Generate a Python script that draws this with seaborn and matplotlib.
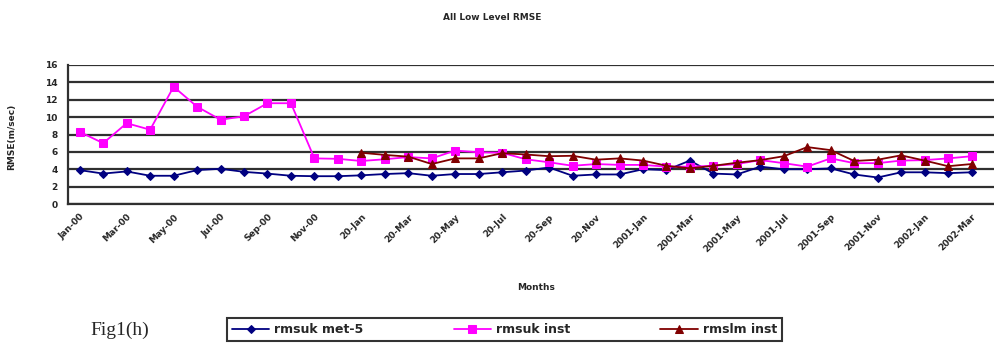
import numpy as np
import pandas as pd
import matplotlib
matplotlib.use("Agg")
import matplotlib.pyplot as plt
import seaborn as sns

tick_labels = ["Jan-00", "Mar-00", "May-00", "Jul-00", "Sep-00", "Nov-00",
               "20-Jan", "20-Mar", "20-May", "20-Jul", "20-Sep", "20-Nov",
               "2001-Jan", "2001-Mar", "2001-May", "2001-Jul", "2001-Sep",
               "2001-Nov", "2002-Jan", "2002-Mar"]

rmsuk_met5 = [3.9, 3.5, 3.75, 3.25, 3.25, 3.9, 4.05, 3.7, 3.5, 3.25, 3.2,
              3.2, 3.3, 3.45, 3.55, 3.25, 3.45, 3.45, 3.65, 3.85,
              4.2, 3.25, 3.4, 3.4, 4.0, 3.9, 5.0, 3.5, 3.4, 4.3, 4.0, 4.0,
              4.1, 3.4, 3.05, 3.65, 3.65, 3.55, 3.65]
rmsuk_inst = [8.3, 7.0, 9.3, 8.55, 13.5, 11.2, 9.7, 10.1, 11.6, 11.6, 5.25,
              5.2, 4.95, 5.15, 5.4, 5.25, 6.15, 5.95, 5.9, 5.15,
              4.8, 4.4, 4.6, 4.5, 4.5, 4.3, 4.3, 4.4, 4.6, 5.05, 4.7, 4.3,
              5.25, 4.7, 4.7, 5.0, 5.05, 5.25, 5.5]
rmslm_inst = [np.nan] * 12 + [5.9, 5.65, 5.45, 4.6, 5.25, 5.25, 5.85, 5.7,
              5.5, 5.55, 5.1, 5.25, 5.0, 4.4, 4.1, 4.4, 4.75, 5.05, 5.5,
              6.55, 6.2, 4.95, 5.1, 5.6, 5.0, 4.35, 4.6]

series_names = ["rmsuk met-5", "rmsuk inst", "rmslm inst"]
colors = ["#000080", "#FF00FF", "#800000"]
markers = ["D", "s", "^"]
msizes = [4.5, 6, 6]

n = len(rmsuk_met5)
idx = np.arange(n)
df = pd.concat([
    pd.DataFrame({"idx": idx, "value": vals, "series": name})
    for name, vals in zip(series_names, [rmsuk_met5, rmsuk_inst, rmslm_inst])
], ignore_index=True)

sns.set_style("white")
plt.rcParams["font.family"] = ["DejaVu Sans"]

fig = plt.figure(figsize=(9.95, 3.5), dpi=100)
ax = fig.add_axes([68 / 995, 1 - 204 / 350, 1 - 68 / 995, (204 - 65) / 350])

for name, c, m, ms in zip(series_names, colors, markers, msizes):
    sub = df[df["series"] == name]
    sns.lineplot(data=sub, x="idx", y="value", ax=ax, color=c, marker=m,
                 markersize=ms, markeredgecolor=c, linewidth=1.3,
                 label=name, legend=False)

ax.set_xlim(-0.5, n + 0.0)
ax.set_ylim(0, 16)
ax.set_yticks(np.arange(0, 17, 2))
ax.yaxis.grid(True, color="#303030", linewidth=1.6)
ax.set_axisbelow(True)
for s in ["top", "right"]:
    ax.spines[s].set_visible(False)
for s in ["left", "bottom"]:
    ax.spines[s].set_color("#303030")
    ax.spines[s].set_linewidth(1.6)

ax.set_xticks(np.arange(-0.5, n + 0.5, 1.0))
ax.set_xticklabels([])
ax.set_xticks(np.arange(0, n, 2), minor=True)
ax.set_xticklabels(tick_labels, minor=True, rotation=45, ha="right",
                   rotation_mode="anchor", fontsize=6.5, fontweight="bold")
ax.tick_params(axis="x", which="major", direction="out", length=4, width=1.2,
               color="#303030")
ax.tick_params(axis="x", which="minor", length=0, pad=6)
ax.tick_params(axis="y", direction="out", length=4, width=1.2, color="#303030",
               labelsize=6.5)
for t in ax.get_yticklabels():
    t.set_fontweight("bold")

ax.set_xlabel("")
ax.set_ylabel("")
fig.text(12 / 995, 1 - 137 / 350, "RMSE(m/sec)", rotation=90, ha="center",
         va="center", fontsize=6.5, fontweight="bold")
fig.text(536 / 995, 1 - 288 / 350, "Months", ha="center", va="center",
         fontsize=6.5, fontweight="bold")
fig.text(492 / 995, 1 - 18 / 350, "All Low Level RMSE", ha="center",
         va="center", fontsize=6.5, fontweight="bold")
fig.text(120 / 995, 1 - 330 / 350, "Fig1(h)", ha="center", va="center",
         fontsize=14, family="Liberation Serif")

handles, labels = ax.get_legend_handles_labels()
leg = fig.legend(handles, labels, loc="center", ncol=3,
                 bbox_to_anchor=(504.5 / 995, 1 - 329.5 / 350),
                 frameon=True, fancybox=False,
                 edgecolor="black", handlelength=3.0, columnspacing=7.2,
                 borderpad=0.4, handletextpad=0.4, borderaxespad=0,
                 prop={"weight": "bold", "size": 9})
leg.get_frame().set_linewidth(1.5)

fig.savefig("out.png", dpi=100, facecolor="white")
